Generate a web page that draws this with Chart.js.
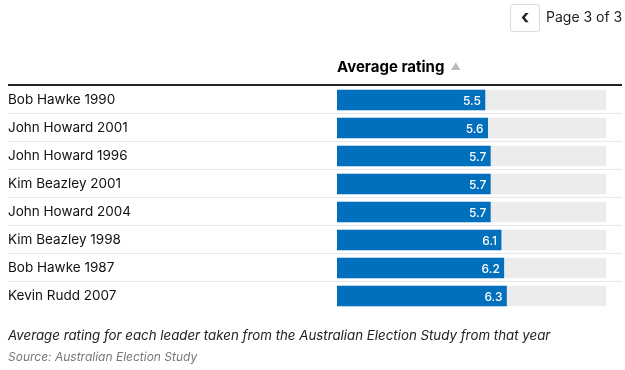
<!DOCTYPE html>
<html>
<head>
<meta charset="utf-8">
<script src="https://cdn.jsdelivr.net/npm/chart.js@4"></script>
<style>
  body { margin: 0; background: #fff; font-family: Inter, "Noto Sans", sans-serif; color: #000; }
  #wrap { position: relative; width: 625px; height: 370px; overflow: hidden; }
  #chart { position: absolute; left: 0; top: 0; }
  .pager { position: absolute; left: 510px; top: 4px; width: 30px; height: 28px; border: 1px solid #dcdcdc; border-radius: 3px; box-sizing: border-box; font-size: 20px; font-weight: 700; text-align: center; line-height: 24px; color: #222; }
  .pageText { position: absolute; left: 546px; top: 8px; font-size: 14px; color: #222; }
  .head { position: absolute; left: 337px; top: 57px; font-size: 15px; font-weight: 700; }
  .head span { color: #bbb; font-size: 10px; margin-left: 6px; vertical-align: 2px; }
  .caption { position: absolute; left: 8px; top: 327px; font-size: 13.3px; font-style: italic; color: #222; }
  .source { position: absolute; left: 8px; top: 349px; font-size: 12px; font-style: italic; color: #777; }
</style>
</head>
<body>
<div id="wrap">
  <canvas id="chart" width="625" height="370"></canvas>
  <div class="pager">&#8249;</div>
  <div class="pageText">Page 3 of 3</div>
  <div class="head">Average rating<span>&#9650;</span></div>
  <div class="caption">Average rating for each leader taken from the Australian Election Study from that year</div>
  <div class="source">Source: Australian Election Study</div>
</div>
<script>
const leaders = ["Bob Hawke 1990", "John Howard 2001", "John Howard 1996", "Kim Beazley 2001",
  "John Howard 2004", "Kim Beazley 1998", "Bob Hawke 1987", "Kevin Rudd 2007"];
const ratings = [5.5, 5.6, 5.7, 5.7, 5.7, 6.1, 6.2, 6.3];
const maxRating = 10;

const tableLines = {
  id: "tableLines",
  beforeDatasetsDraw(chart) {
    const ctx = chart.ctx;
    const y = chart.scales.y;
    ctx.save();
    // header rule
    ctx.fillStyle = "#222";
    ctx.fillRect(8, chart.chartArea.top - 2, 614, 2);
    // row separators
    ctx.fillStyle = "#e8e8e8";
    for (let i = 0; i < leaders.length - 1; i++) {
      const mid = (y.getPixelForValue(i) + y.getPixelForValue(i + 1)) / 2;
      ctx.fillRect(8, Math.round(mid) - 1, 614, 1);
    }
    ctx.restore();
  },
  afterDatasetsDraw(chart) {
    const ctx = chart.ctx;
    const meta = chart.getDatasetMeta(1);
    ctx.save();
    ctx.fillStyle = "#fff";
    ctx.font = "500 12px Inter, 'Noto Sans', sans-serif";
    ctx.textAlign = "right";
    ctx.textBaseline = "middle";
    meta.data.forEach((bar, i) => {
      ctx.fillText(ratings[i].toFixed(1), bar.x - 4, bar.y + 1);
    });
    ctx.restore();
  }
};

new Chart(document.getElementById("chart"), {
  type: "bar",
  data: {
    labels: leaders,
    datasets: [
      {
        data: leaders.map(() => maxRating),
        backgroundColor: "#ececec",
        barThickness: 20,
        grouped: false,
        order: 2
      },
      {
        data: ratings,
        backgroundColor: "#006fbc",
        barThickness: 20,
        grouped: false,
        order: 1
      }
    ]
  },
  options: {
    indexAxis: "y",
    responsive: false,
    animation: false,
    layout: { padding: { left: 8, right: 19, top: 86, bottom: 60 } },
    plugins: { legend: { display: false }, tooltip: { enabled: false } },
    scales: {
      x: { display: false, min: 0, max: maxRating },
      y: {
        offset: true,
        grid: { display: false },
        border: { display: false },
        afterFit(scale) { scale.width = 329; },
        ticks: {
          crossAlign: "far",
          padding: 0,
          color: "#111",
          font: { family: "Inter, 'Noto Sans', sans-serif", size: 13.5 }
        }
      }
    }
  },
  plugins: [tableLines]
});
</script>
</body>
</html>
